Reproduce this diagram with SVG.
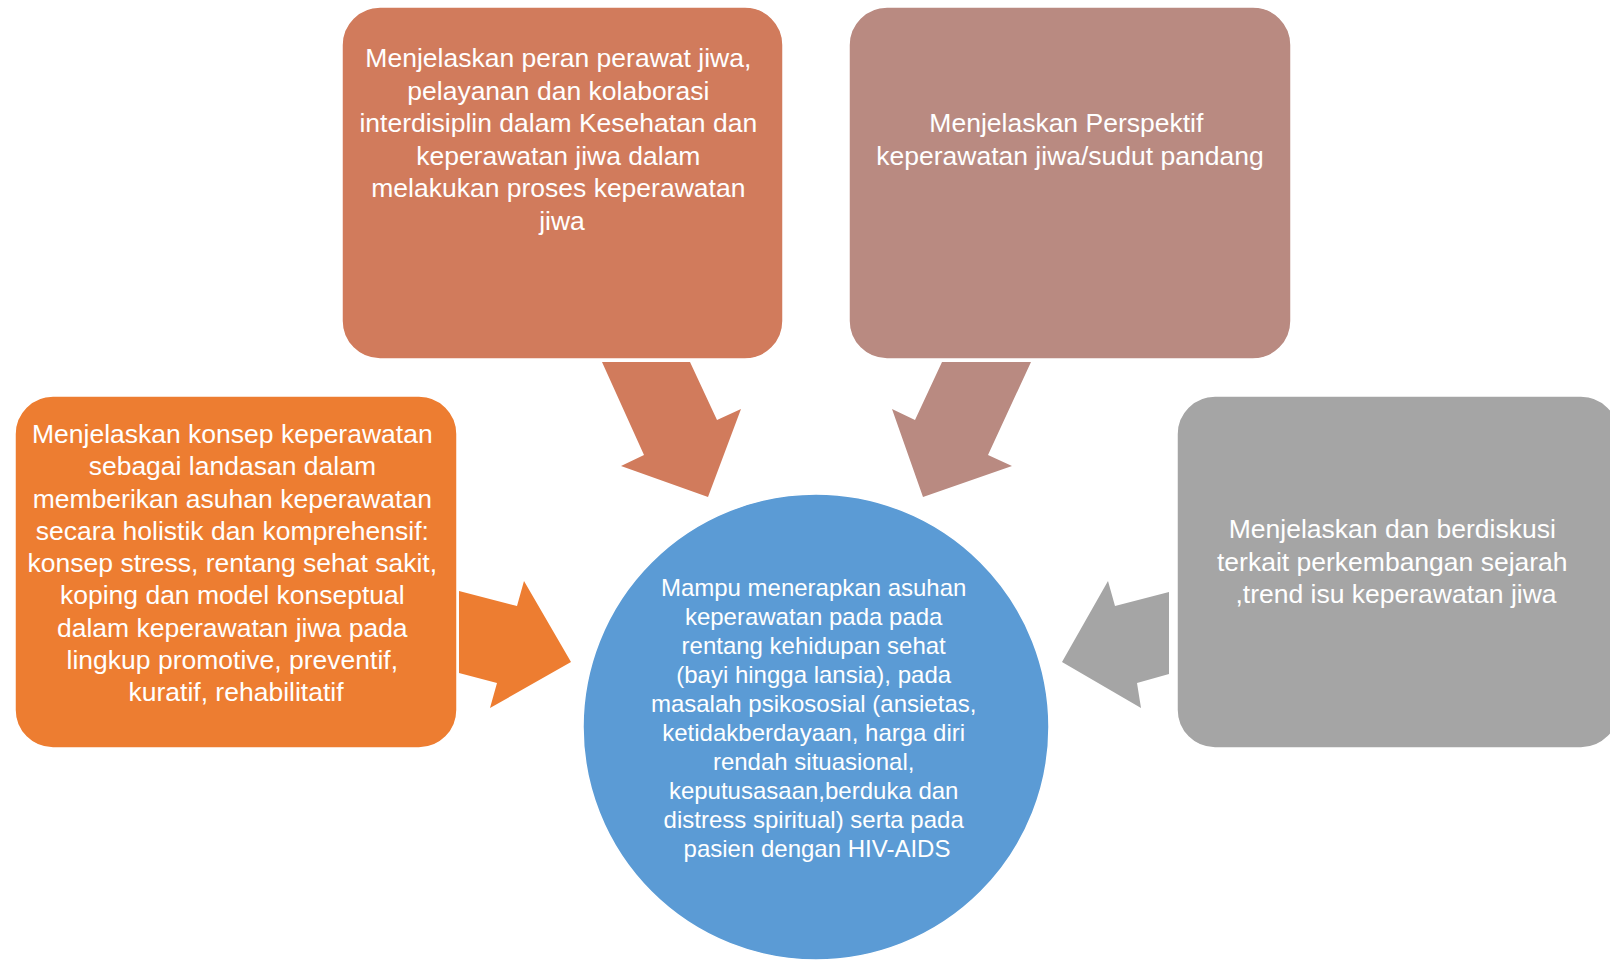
<svg xmlns="http://www.w3.org/2000/svg" width="1610" height="961" viewBox="0 0 1610 961">
<style>
  .t { font-family: "Liberation Sans", Arial, sans-serif; fill: #FFFFFF; text-anchor: middle; }
  .box { font-size: 26.5px; }
  .circ { font-size: 24px; }
  .shape { stroke: #FFFFFF; stroke-width: 1.5; }
</style>
<rect width="1610" height="961" fill="#FFFFFF"/>
<g id="connectors">
  <polygon fill="#D17B5C" points="602,362 690,362 717,420 741,409 708,497 621,466 644,455"/>
  <polygon fill="#B98A81" points="942,362 1031,362 988,455 1012,466 923,497 892,409 915,420"/>
  <polygon fill="#ED7D31" points="459,591 517,606 524,581 571,662 490,708 497,683 459,673"/>
  <polygon fill="#A5A5A5" points="1169,592 1115,606 1108,581 1062,662 1141,708 1137,683 1169,674"/>
</g>
<g id="node-center">
  <circle class="shape" cx="816" cy="727" r="233" fill="#5B9BD5"/>
  <text class="t circ">
    <tspan x="817" y="596">Mampu menerapkan asuhan</tspan>
    <tspan x="817" y="625">keperawatan pada pada</tspan>
    <tspan x="817" y="654">rentang kehidupan sehat</tspan>
    <tspan x="817" y="683">(bayi hingga lansia), pada</tspan>
    <tspan x="817" y="712">masalah psikososial (ansietas,</tspan>
    <tspan x="817" y="741">ketidakberdayaan, harga diri</tspan>
    <tspan x="817" y="770">rendah situasional,</tspan>
    <tspan x="817" y="799">keputusasaan,berduka dan</tspan>
    <tspan x="817" y="828">distress spiritual) serta pada</tspan>
    <tspan x="817" y="857">pasien dengan HIV-AIDS</tspan>
  </text>
</g>
<g id="node-top-middle">
  <rect class="shape" x="342" y="7" width="441" height="352" rx="38" fill="#D17B5C"/>
  <text class="t box">
    <tspan x="562" y="67">Menjelaskan peran perawat jiwa,</tspan>
    <tspan x="562" y="99.5">pelayanan dan kolaborasi</tspan>
    <tspan x="562" y="132">interdisiplin dalam Kesehatan dan</tspan>
    <tspan x="562" y="164.5">keperawatan jiwa dalam</tspan>
    <tspan x="562" y="197">melakukan proses keperawatan</tspan>
    <tspan x="562" y="229.5">jiwa</tspan>
  </text>
</g>
<g id="node-top-right">
  <rect class="shape" x="849" y="7" width="442" height="352" rx="38" fill="#B98A81"/>
  <text class="t box">
    <tspan x="1070" y="132">Menjelaskan Perspektif</tspan>
    <tspan x="1070" y="164.5">keperawatan jiwa/sudut pandang</tspan>
  </text>
</g>
<g id="node-left">
  <rect class="shape" x="15" y="396" width="442" height="352" rx="38" fill="#ED7D31"/>
  <text class="t box">
    <tspan x="236" y="443">Menjelaskan konsep keperawatan</tspan>
    <tspan x="236" y="475">sebagai landasan dalam</tspan>
    <tspan x="236" y="507.5">memberikan asuhan keperawatan</tspan>
    <tspan x="236" y="540">secara holistik dan komprehensif:</tspan>
    <tspan x="236" y="572">konsep stress, rentang sehat sakit,</tspan>
    <tspan x="236" y="604">koping dan model konseptual</tspan>
    <tspan x="236" y="636.5">dalam keperawatan jiwa pada</tspan>
    <tspan x="236" y="668.5">lingkup promotive, preventif,</tspan>
    <tspan x="236" y="701">kuratif, rehabilitatif</tspan>
  </text>
</g>
<g id="node-right">
  <rect class="shape" x="1177" y="396" width="442" height="352" rx="38" fill="#A5A5A5"/>
  <text class="t box">
    <tspan x="1396" y="538">Menjelaskan dan berdiskusi</tspan>
    <tspan x="1396" y="570.5">terkait perkembangan sejarah</tspan>
    <tspan x="1396" y="603">,trend isu keperawatan jiwa</tspan>
  </text>
</g>
</svg>
